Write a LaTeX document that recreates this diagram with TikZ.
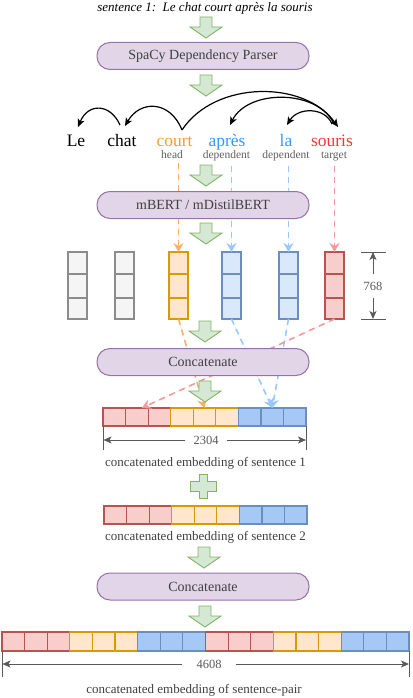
\documentclass[tikz,border=0pt]{standalone}
\usepackage{fontspec}
\setmainfont{Liberation Serif}
\usetikzlibrary{arrows.meta,calc}
\definecolor{gfill}{HTML}{D5E8D4}
\definecolor{gdraw}{HTML}{82B366}
\definecolor{pfill}{HTML}{E1D5E7}
\definecolor{pdraw}{HTML}{9673A6}
\definecolor{boxtext}{HTML}{404040}
\definecolor{rolegray}{HTML}{606060}
\definecolor{wOrange}{HTML}{FF9933}
\definecolor{wBlue}{HTML}{3399FF}
\definecolor{wRed}{HTML}{FF3333}
\definecolor{cRfill}{HTML}{F8CECC}
\definecolor{cRdraw}{HTML}{B85450}
\definecolor{cOfill}{HTML}{FFE6CC}
\definecolor{cOdraw}{HTML}{D79B00}
\definecolor{cBfill}{HTML}{DAE8FC}
\definecolor{cBdraw}{HTML}{6C8EBF}
\definecolor{cB2fill}{HTML}{A6C8F5}
\definecolor{cGfill}{HTML}{F5F5F5}
\definecolor{cGdraw}{HTML}{8C8C8C}
\definecolor{dOrange}{HTML}{F7B06A}
\definecolor{dBlue}{HTML}{99C8FF}
\definecolor{dRed}{HTML}{F09A9A}
\definecolor{dimgray}{HTML}{5A5A5A}
\tikzset{
  gshape/.style={fill=gfill, draw=gdraw, line width=0.9pt, line join=miter},
  garrow/.pic={\path[gshape] (-6,0) -- (6,0) -- (6,10) -- (16,10) -- (0,21) -- (-16,10) -- (-6,10) -- cycle;},
  gplus/.pic={\path[gshape] (-4,-12) -- (4,-12) -- (4,-5) -- (13,-5) -- (13,5) -- (4,5) -- (4,12) -- (-4,12) -- (-4,5) -- (-13,5) -- (-13,-5) -- (-4,-5) -- cycle;},
  procbox/.style={draw=pdraw, fill=pfill, line width=1pt, rounded corners=13pt, minimum width=212pt, minimum height=27pt, inner sep=0pt, font=\fontsize{14}{16}\selectfont, text=boxtext},
  word/.style={anchor=base, inner sep=0pt, font=\fontsize{17.5}{20}\selectfont},
  role/.style={anchor=base, inner sep=0pt, font=\fontsize{11.5}{13}\selectfont, text=rolegray},
  caption/.style={font=\fontsize{13}{15}\selectfont, text=boxtext},
  dep/.style={-{Stealth[length=8pt,width=7pt,inset=2pt]}, line width=1.2pt},
  tok/.style={dash pattern=on 6pt off 5pt, line width=1.6pt, -{Stealth[length=9pt,width=10pt,inset=3pt]}},
  cell/.style={line width=1.2pt, inner sep=0pt, outer sep=0pt},
  dimline/.style={draw=dimgray, line width=0.8pt},
  dimarrow/.style={draw=dimgray, line width=0.8pt, -{Stealth[length=8pt,width=7pt,inset=2pt]}},
  dimtext/.style={fill=white, inner xsep=8pt, inner ysep=2pt, font=\fontsize{12.5}{14}\selectfont, text=dimgray}
}
\begin{document}
\begin{tikzpicture}[x=1pt,y=-1pt]
\useasboundingbox (0,0) rectangle (412,698);
\fill[white] (0,0) rectangle (412,698);

% title
\node[font=\fontsize{13}{15}\selectfont\itshape] (title) at (205,8) {sentence 1:\ \ Le chat court après la souris};

% boxes
\node[procbox] (spacy) at (203,56) {SpaCy Dependency Parser};

% words
\node[word] (wLe) at (76,146.5) {Le};
\node[word] (wChat) at (122,146.5) {chat};
\node[word, text=wOrange] (wCourt) at (174.5,146.5) {court};
\node[word, text=wBlue] (wApres) at (227,146.5) {après};
\node[word, text=wBlue] (wLa) at (286,146.5) {la};
\node[word, text=wRed] (wSouris) at (332,146.5) {souris};
\node[role] (rCourt) at (172,158) {head};
\node[role] (rApres) at (226.5,158) {dependent};
\node[role] (rLa) at (286,158) {dependent};
\node[role] (rSouris) at (334,158) {target};

% dependency arcs
\coordinate (aLe) at (78,127);
\coordinate (sChat) at (120,125);
\coordinate (aChat) at (125,126);
\coordinate (sCourt) at (182,130);
\coordinate (aSouris) at (338,127);
\coordinate (sSouris) at (334,124);
\coordinate (sSouris2) at (332,124);
\coordinate (aApres) at (230,125);
\coordinate (aLa) at (287,125);
\draw[dep] (sChat) .. controls (110,103) and (88,103) .. (aLe);
\draw[dep] (sCourt) .. controls (170,100) and (140,100) .. (aChat);
\draw[dep] (sCourt) .. controls (215,80) and (305,80) .. (aSouris);
\draw[dep] (sSouris) .. controls (318,89) and (248,89) .. (aApres);
\draw[dep] (sSouris2) .. controls (325,107) and (298,107) .. (aLa);

% single-token vectors
\foreach \n/\x/\f/\d in {le/77.5/cGfill/cGdraw, chat/124.5/cGfill/cGdraw, court/178.5/cOfill/cOdraw, apres/231.5/cBfill/cBdraw, la/288.5/cBfill/cBdraw, souris/334.5/cRfill/cRdraw} {
  \node[cell, fill=\f, draw=\d, minimum width=19pt, minimum height=22pt] (v\n-1) at (\x,263) {};
  \node[cell, fill=\f, draw=\d, minimum width=19pt, minimum height=24pt] (v\n-2) at (\x,286) {};
  \node[cell, fill=\f, draw=\d, minimum width=19pt, minimum height=21pt] (v\n-3) at (\x,308.5) {};
}

% concatenated vectors (sentence 1 and 2)
\foreach \i/\f/\d in {1/cRfill/cRdraw,2/cRfill/cRdraw,3/cRfill/cRdraw,4/cOfill/cOdraw,5/cOfill/cOdraw,6/cOfill/cOdraw,7/cB2fill/cBdraw,8/cB2fill/cBdraw,9/cB2fill/cBdraw} {
  \node[cell, fill=\f, draw=\d, minimum width=22.56pt, minimum height=18pt] (ca-\i) at ({103+22.56*(\i-0.5)},417) {};
  \node[cell, fill=\f, draw=\d, minimum width=22.56pt, minimum height=18pt] (cb-\i) at ({104+22.56*(\i-0.5)},515) {};
}

% token dashed connectors
\draw[tok, draw=dOrange, fill=dOrange] ([yshift=-5pt]rCourt.south -| vcourt-1.north) -- (vcourt-1.north);
\draw[tok, draw=dBlue, fill=dBlue] ([yshift=-5pt]rApres.south -| vapres-1.north) -- (vapres-1.north);
\draw[tok, draw=dBlue, fill=dBlue] ([yshift=-5pt]rLa.south -| vla-1.north) -- (vla-1.north);
\draw[tok, draw=dRed, fill=dRed] ([yshift=-5pt]rSouris.south -| vsouris-1.north) -- (vsouris-1.north);

\draw[tok, draw=dOrange, fill=dOrange] (vcourt-3.south) -- (ca-5.north);
\draw[tok, draw=dBlue, fill=dBlue] (vapres-3.south) -- (ca-8.north);
\draw[tok, draw=dBlue, fill=dBlue] (vla-3.south) -- (ca-8.north);
\coordinate (redEnd) at ($(ca-2.north)+(5,0)$);
\draw[tok, draw=dRed, fill=dRed] (vsouris-3.south) -- (redEnd);

% boxes drawn over the dashed connectors
\node[procbox] (bert) at (203,205) {mBERT / mDistilBERT};
\node[procbox] (concat1) at (203,362) {Concatenate};
\node[procbox] (concat2) at (203,586.5) {Concatenate};

% green flow arrows
\pic (ga1) at (206,17) {garrow};
\pic (ga2) at (206,75) {garrow};
\pic (ga3) at (206,165) {garrow};
\pic (ga4) at (206,223) {garrow};
\pic (ga5) at (205,321) {garrow};
\pic (ga6) at (205,381) {garrow};
\pic (gplus) at (203,486.5) {gplus};
\pic (ga7) at (204,547) {garrow};
\pic (ga8) at (205,606) {garrow};

% dimension 768
\coordinate (t768) at (373,252);
\coordinate (b768) at (373,319);
\draw[dimline] (361,252) -- (386,252);
\draw[dimline] (361,319) -- (386,319);
\node[dimtext, inner xsep=2pt, inner ysep=8pt] (d768) at (373,286) {768};
\draw[dimarrow] (d768) -- (t768);
\draw[dimarrow] (d768) -- (b768);

% dimension 2304
\draw[dimline] (ca-1.south west) -- ++(0,24);
\draw[dimline] (ca-9.south east) -- ++(0,24);
\node[dimtext] (d2304) at (206,440) {2304};
\coordinate (l2304) at (103.5,440);
\coordinate (r2304) at (306,440);
\draw[dimarrow] (d2304) -- (l2304);
\draw[dimarrow] (d2304) -- (r2304);
\node[caption] (cap1) at (205.5,463) {concatenated embedding of sentence 1};

\node[caption] (cap2) at (205.5,537) {concatenated embedding of sentence 2};

% final vector
\foreach \i in {1,...,18} {
  \pgfmathtruncatemacro\g{mod(int((\i-1)/3),3)}
  \ifcase\g \def\f{cRfill}\def\d{cRdraw}\or \def\f{cOfill}\def\d{cOdraw}\or \def\f{cB2fill}\def\d{cBdraw}\fi
  \node[cell, fill=\f, draw=\d, minimum width=22.61pt, minimum height=19pt] (cp-\i) at ({2+22.61*(\i-0.5)},641.5) {};
}

% dimension 4608
\draw[dimline] (cp-1.south west) -- ++(0,26);
\draw[dimline] (cp-18.south east) -- ++(0,26);
\node[dimtext, inner xsep=14pt] (d4608) at (209,664) {4608};
\coordinate (l4608) at (2.5,664);
\coordinate (r4608) at (409,664);
\draw[dimarrow] (d4608) -- (l4608);
\draw[dimarrow] (d4608) -- (r4608);
\node[caption] (cap3) at (194,690) {concatenated embedding of sentence-pair};
\end{tikzpicture}
\end{document}
